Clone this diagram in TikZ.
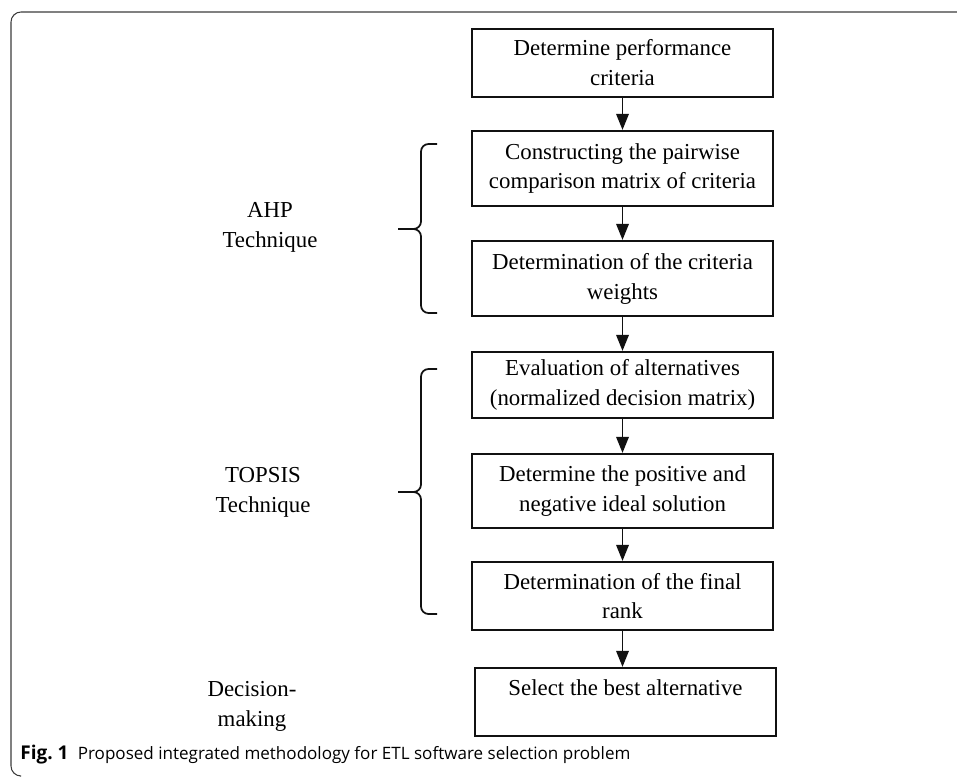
\documentclass[tikz,border=0pt]{standalone}
\usepackage{fontspec}
\setmainfont{Liberation Serif}
\newfontfamily\captfont{Open Sans}
\usetikzlibrary{arrows.meta}
\definecolor{framegray}{HTML}{3C3C3C}
\definecolor{inkblack}{HTML}{111111}
\tikzset{
  proc/.style={draw=inkblack, line width=1.25pt, fill=white, minimum width=6.02cm, align=center, inner sep=2pt, font=\fontsize{13}{17}\selectfont},
  flow/.style={-{Triangle[length=3.2mm, width=2.5mm]}, draw=inkblack, line width=1pt},
  grp/.style={draw=inkblack, line width=1pt, rounded corners=0.15cm},
  side/.style={align=center, font=\fontsize{13}{17}\selectfont, inner sep=0pt},
  framer/.style={draw=framegray, line width=0.6pt, rounded corners=0.2cm},
  capt/.style={font=\captfont\fontsize{9.7}{12}\selectfont, anchor=base west, inner sep=0pt},
}
\begin{document}
\begin{tikzpicture}[x=1cm,y=1cm]
  \useasboundingbox (0,0) rectangle (19.14,-15.56);
  % open frame round the figure
  \draw[framer] (0.40,-15.52) -- (0.22,-15.52) -- (0.22,-0.24) -- (19.30,-0.24);
  % process chain
  \node[proc, minimum height=1.36cm] (b1) at (12.45,-1.26) {Determine performance\\criteria};
  \node[proc, minimum height=1.50cm] (b2) at (12.45,-3.37) {Constructing the pairwise\\comparison matrix of criteria};
  \node[proc, minimum height=1.50cm] (b3) at (12.45,-5.57) {Determination of the criteria\\weights};
  \node[proc, minimum height=1.32cm] (b4) at (12.45,-7.70) {Evaluation of alternatives\\(normalized decision matrix)};
  \node[proc, minimum height=1.48cm] (b5) at (12.45,-9.82) {Determine the positive and\\negative ideal solution};
  \node[proc, minimum height=1.36cm] (b6) at (12.45,-11.92) {Determination of the final\\rank};
  \node[proc, text height=0.47cm, text depth=0.75cm] (b7) at (12.51,-14.04) {Select the best alternative};
  \draw[flow] (b1) -- (b2);
  \draw[flow] (b2) -- (b3);
  \draw[flow] (b3) -- (b4);
  \draw[flow] (b4) -- (b5);
  \draw[flow] (b5) -- (b6);
  \draw[flow] (b6.south) -- (b6.south |- b7.north);
  % braces of the two techniques
  \draw[grp] (8.74,-2.88) -- (8.42,-2.88) -- (8.42,-4.58) -- (7.96,-4.58);
  \draw[grp] (8.74,-6.26) -- (8.42,-6.26) -- (8.42,-4.58) -- (7.96,-4.58);
  \draw[grp] (8.74,-7.38) -- (8.42,-7.38) -- (8.42,-9.84) -- (7.96,-9.84);
  \draw[grp] (8.74,-12.28) -- (8.42,-12.28) -- (8.42,-9.84) -- (7.96,-9.84);
  \node[side] (ahp) at (5.40,-4.54) {AHP\\Technique};
  \node[side] (tops) at (5.26,-9.84) {TOPSIS\\Technique};
  \node[side] (dec) at (5.04,-14.12) {Decision-\\making};
  % caption
  \node[capt] (cap) at (0.40,-15.18) {{\fontsize{10.8}{12}\selectfont\textbf{Fig.~1}}\hspace{0.55em}Proposed integrated methodology for ETL software selection problem};
\end{tikzpicture}
\end{document}
